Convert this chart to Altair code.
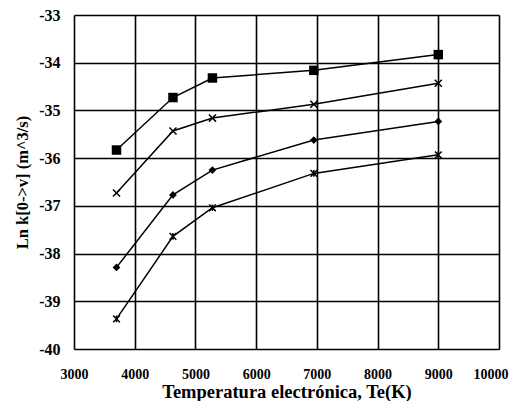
import altair as alt
import pandas as pd

temps = [3700, 4630, 5280, 6950, 9000]
s1 = [-35.83, -34.73, -34.32, -34.16, -33.83]
s2 = [-36.73, -35.43, -35.16, -34.87, -34.43]
s3 = [-38.29, -36.77, -36.25, -35.62, -35.23]
s4 = [-39.37, -37.64, -37.04, -36.32, -35.93]
series_names = ["s1", "s2", "s3", "s4"]
series_vals = [s1, s2, s3, s4]
x_ticks = [3000, 4000, 5000, 6000, 7000, 8000, 9000, 10000]
y_ticks = [-40, -39, -38, -37, -36, -35, -34, -33]

rows = []
for name, vals in zip(series_names, series_vals):
    for t, v in zip(temps, vals):
        rows.append({"serie": name, "T": t, "lnk": v})
df = pd.DataFrame(rows)

FONT = "Liberation Serif"
x_enc = alt.X("T:Q", scale=alt.Scale(domain=[3000, 10000], nice=False),
              axis=alt.Axis(values=x_ticks, title="Temperatura electrónica, Te(K)",
                            labelExpr="toString(datum.value)",
                            labelAlign=alt.condition("datum.value == 10000", alt.value("right"), alt.value("center")),
                            labelOffset=alt.condition("datum.value == 10000", alt.value(9), alt.value(0)),
                            grid=True, gridColor="black", gridWidth=1.6, ticks=False,
                            domain=False, labelPadding=18, titlePadding=1,
                            labelFont=FONT, labelFontWeight="bold", labelFontSize=14,
                            titleFont=FONT, titleFontWeight="bold", titleFontSize=18.5,
                            labelColor="black", titleColor="black"))
y_enc = alt.Y("lnk:Q", scale=alt.Scale(domain=[-40, -33], nice=False, zero=False),
              axis=alt.Axis(values=y_ticks, title="Ln k[0->v] (m^3/s)",
                            labelExpr="toString(datum.value)",
                            grid=True, gridColor="black", gridWidth=1.6, ticks=False,
                            domain=False, labelPadding=14, titlePadding=8,
                            labelFont=FONT, labelFontWeight="bold", labelFontSize=16,
                            titleFont=FONT, titleFontWeight="bold", titleFontSize=16.5,
                            labelColor="black", titleColor="black"))

base = alt.Chart(df).encode(x=x_enc, y=y_enc)

lines = base.mark_line(color="black", strokeWidth=1.5).encode(detail="serie:N")

xpath = "M-1,-1L1,1M-1,1L1,-1"
starpath = "M-1,-1L1,1M-1,1L1,-1M0,-1L0,1"
p1 = base.transform_filter(alt.datum.serie == "s1").mark_point(
    shape="square", filled=True, color="black", size=90, opacity=1)
p2 = base.transform_filter(alt.datum.serie == "s2").mark_point(
    shape=xpath, filled=False, color="black", size=50, strokeWidth=1.5, opacity=1)
p3 = base.transform_filter(alt.datum.serie == "s3").mark_point(
    shape="diamond", filled=True, color="black", size=60, opacity=1)
p4 = base.transform_filter(alt.datum.serie == "s4").mark_point(
    shape=starpath, filled=False, color="black", size=45, strokeWidth=1.5, opacity=1)

chart = alt.layer(lines, p1, p2, p3, p4).properties(
    width=425, height=334,
    autosize=alt.AutoSizeParams(type="none"),
    padding={"left": 66, "top": 7, "right": 10, "bottom": 52},
).configure_view(stroke="black", strokeWidth=2).configure(background="white")

chart.save("out.html", embed_options={"renderer": "svg", "actions": False})
